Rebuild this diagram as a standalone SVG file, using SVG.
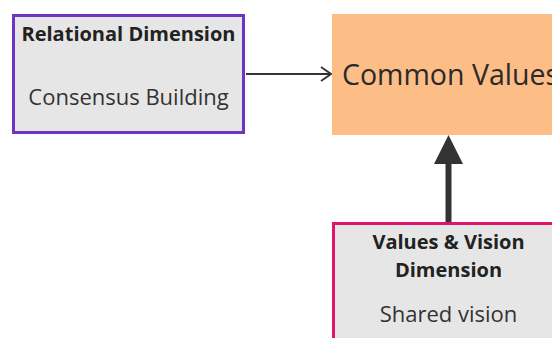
<svg xmlns="http://www.w3.org/2000/svg" width="552" height="338" viewBox="0 0 552 338">
  <style>
    .box { fill: #e6e6e6; stroke-width: 3; }
    .title { font-family: "Open Sans", "Liberation Sans", sans-serif; font-weight: bold; font-size: 20px; fill: #222; text-anchor: middle; }
    .body { font-family: "Open Sans", "Liberation Sans", sans-serif; font-size: 22px; fill: #333; text-anchor: middle; }
    .big { font-family: "Open Sans", "Liberation Sans", sans-serif; font-size: 28.5px; fill: #2a2a2a; }
  </style>
  <defs>
    <marker id="chevron" viewBox="0 0 12 16" refX="11" refY="8" markerWidth="12" markerHeight="16" markerUnits="userSpaceOnUse" orient="auto">
      <path d="M1,1 L11,8 L1,15" fill="none" stroke="#333" stroke-width="1.8"/>
    </marker>
  </defs>

  <g id="relational">
    <rect class="box" x="13.5" y="15.5" width="230" height="117" stroke="#6f35c2"/>
    <text class="title" x="128.5" y="41">Relational Dimension</text>
    <text class="body" x="128.5" y="105">Consensus Building</text>
  </g>

  <g id="common-values">
    <rect x="332" y="14" width="230" height="121" fill="#fdbd87"/>
    <text class="big" x="342" y="85">Common Values</text>
  </g>

  <g id="values-vision">
    <rect class="box" x="333.5" y="223.5" width="230" height="130" stroke="#e2136b"/>
    <text class="title" x="448.5" y="249">Values &amp; Vision</text>
    <text class="title" x="448.5" y="277">Dimension</text>
    <text class="body" x="448.5" y="322">Shared vision</text>
  </g>

  <g id="connectors">
    <line x1="246" y1="74" x2="331" y2="74" stroke="#333" stroke-width="1.8" marker-end="url(#chevron)"/>
    <line x1="448.5" y1="222" x2="448.5" y2="160" stroke="#333" stroke-width="6"/>
    <polygon points="448.5,135 434,164 463,164" fill="#333"/>
  </g>
</svg>
